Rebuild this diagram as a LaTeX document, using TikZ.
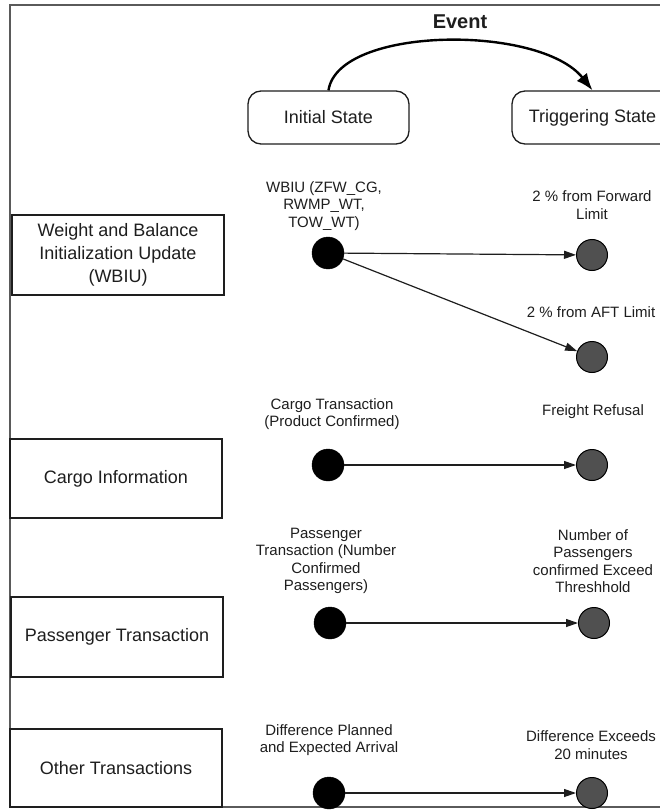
\documentclass[tikz,border=0pt]{standalone}
\usepackage{fontspec}
\setmainfont{Liberation Sans}
\usetikzlibrary{arrows.meta}
\definecolor{framegray}{HTML}{5A5A5A}
\definecolor{dotgray}{HTML}{505050}
\definecolor{inkc}{HTML}{1E1E1E}
\begin{document}
\begin{tikzpicture}[x=1pt,y=-1pt,
  catbox/.style={draw=inkc,line width=1.4pt,rectangle,minimum width=212pt,align=center,text=inkc,
    font=\fontsize{18}{23}\selectfont,inner sep=0pt},
  statebox/.style={draw=inkc,line width=1.3pt,rounded corners=13pt,minimum width=161pt,minimum height=53pt,
    font=\fontsize{18}{22}\selectfont,text=inkc,inner sep=0pt},
  lbl/.style={align=center,text=inkc,font=\fontsize{15}{17.5}\selectfont,inner sep=0pt},
  srcdot/.style={circle,fill=black,draw=black,minimum size=32pt,inner sep=0pt},
  trgdot/.style={circle,fill=dotgray,draw=black,line width=1pt,minimum size=31pt,inner sep=0pt},
  arr/.style={draw=inkc,line width=1.2pt,-{Triangle[length=12pt,width=8pt]}},
  evarr/.style={draw=black,line width=2.4pt,-{Latex[length=17pt,width=13pt]}},
  frameline/.style={draw=framegray,line width=2.4pt}]
\useasboundingbox (0,0) rectangle (660,810);
\fill[white] (0,0) rectangle (660,810);
% frame
\draw[frameline] (675,5) -- (10,5) -- (10,807) -- (675,807);
% header
\node[font=\fontsize{20}{24}\selectfont\bfseries,text=inkc] (event) at (460,22) {Event};
\node[statebox] (init) at (328.5,117.5) {Initial State};
\node[statebox] (trig) at (592.5,117.5) {Triggering State};
\draw[evarr] (init.north) .. controls (338,26) and (540,24) .. (trig.north);
% category boxes
\node[catbox,minimum height=80pt] (wbiu) at (118,255) {Weight and Balance\\Initialization Update\\(WBIU)};
\node[catbox,minimum height=79pt] (cargo) at (116,478.5) {Cargo Information};
\node[catbox,minimum height=80pt] (pass) at (117,637) {Passenger Transaction};
\node[catbox,minimum height=78pt] (other) at (116,768) {Other Transactions};
% row 1
\node[lbl] (l1s) at (324,206) {WBIU (ZFW\_CG,\\RWMP\_WT,\\TOW\_WT)};
\node[lbl] (l1f) at (592,205) {2 \% from Forward\\Limit};
\node[lbl] (l1a) at (591,312) {2 \% from AFT Limit};
\node[srcdot] (d1s) at (328,253) {};
\node[trgdot] (d1f) at (592,255) {};
\node[trgdot] (d1a) at (592,357) {};
\draw[arr] (d1s) -- (d1f);
\draw[arr] (d1s) -- (d1a);
% row 2
\node[lbl] (l2s) at (332,414) {Cargo Transaction\\(Product Confirmed)};
\node[lbl] (l2f) at (593,412) {Freight Refusal};
\node[srcdot] (d2s) at (328,465) {};
\node[trgdot] (d2f) at (592,465) {};
\draw[arr] (d2s) -- (d2f);
% row 3
\node[lbl] (l3s) at (326,561) {Passenger\\Transaction (Number\\Confirmed\\Passengers)};
\node[lbl] (l3f) at (593,561) {Number of\\Passengers\\confirmed Exceed\\Threshhold};
\node[srcdot] (d3s) at (330,623) {};
\node[trgdot] (d3f) at (594,623) {};
\draw[arr] (d3s) -- (d3f);
% row 4
\node[lbl] (l4s) at (329,740) {Difference Planned\\and Expected Arrival};
\node[lbl] (l4f) at (591,745) {Difference Exceeds\\20 minutes};
\node[srcdot] (d4s) at (329,793) {};
\node[trgdot] (d4f) at (592,793) {};
\draw[arr] (d4s) -- (d4f);
\end{tikzpicture}
\end{document}
